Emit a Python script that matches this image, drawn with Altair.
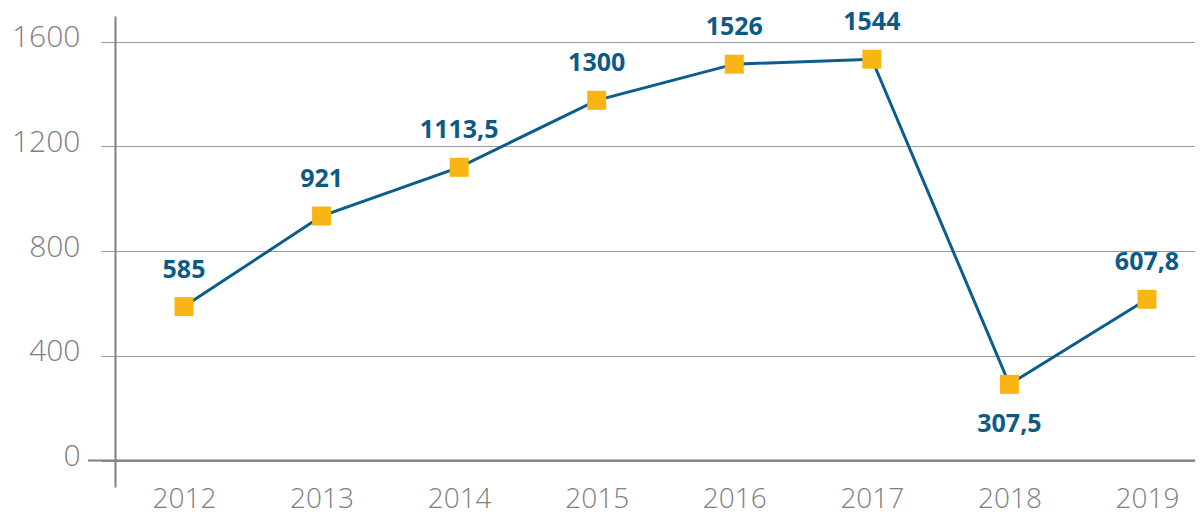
import altair as alt
import pandas as pd

years = [2012, 2013, 2014, 2015, 2016, 2017, 2018, 2019]
values = [588, 934, 1120, 1376, 1514, 1533, 291, 616]
labels = ["585", "921", "1113,5", "1300", "1526", "1544", "307,5", "607,8"]
y_ticks = [0, 400, 800, 1200, 1600]

df = pd.DataFrame({"year": years, "value": values, "label": labels})

FONT = "Open Sans"
GRAY = "#808080"
BLUE = "#0d5a88"
W, H = 1080, 471

x = alt.X(
    "year:Q",
    scale=alt.Scale(domain=[2011.4984, 2019.349], nice=False, zero=False),
    axis=alt.Axis(
        title=None, values=years, format="d", labelAngle=0, domain=False,
        ticks=False, grid=False, labelFont=FONT, labelFontSize=28,
        labelColor=GRAY, labelPadding=-2, labelFontWeight=300,
        labelFlush=False, labelOverlap=False,
    ),
)
y = alt.Y(
    "value:Q",
    scale=alt.Scale(domain=[-101, 1698], nice=False, zero=False),
    axis=alt.Axis(
        title=None, values=y_ticks, format="d", grid=True, gridColor="#9a9a9a",
        gridWidth=1, domain=True, domainColor=GRAY, domainWidth=2,
        ticks=True, tickSize=14, tickColor="#9a9a9a", tickWidth=1,
        labelFont=FONT, labelFontSize=30, labelColor=GRAY, labelPadding=21,
        labelOffset=-4, labelFontWeight=300,
    ),
)

base = alt.Chart(df).encode(x=x, y=y)

zero_rule = (
    alt.Chart(df)
    .transform_filter("datum.year == 2012")
    .mark_rule(color=GRAY, strokeWidth=2)
    .encode(y=alt.datum(0), x=alt.value(-27), x2=alt.value(W))
)

line = base.mark_line(color="#0b5d8c", strokeWidth=3)
points = base.mark_square(size=361, color="#f9b514", opacity=1)

labels_above = (
    base.transform_filter("datum.year != 2018")
    .mark_text(font=FONT, fontWeight="bold", fontSize=25, color=BLUE,
               baseline="alphabetic", dy=-29)
    .encode(text="label:N")
)
labels_below = (
    base.transform_filter("datum.year == 2018")
    .mark_text(font=FONT, fontWeight="bold", fontSize=25, color=BLUE,
               baseline="alphabetic", dy=48)
    .encode(text="label:N")
)

chart = (
    alt.layer(zero_rule, line, points, labels_above, labels_below)
    .properties(
        width=W, height=H,
        padding={"left": 107, "top": 8, "right": 0, "bottom": 25},
        autosize=alt.AutoSizeParams(type="none"),
        background="white",
    )
    .configure_view(stroke=None)
)

chart.save("out.html", embed_options={"renderer": "svg", "actions": False})
